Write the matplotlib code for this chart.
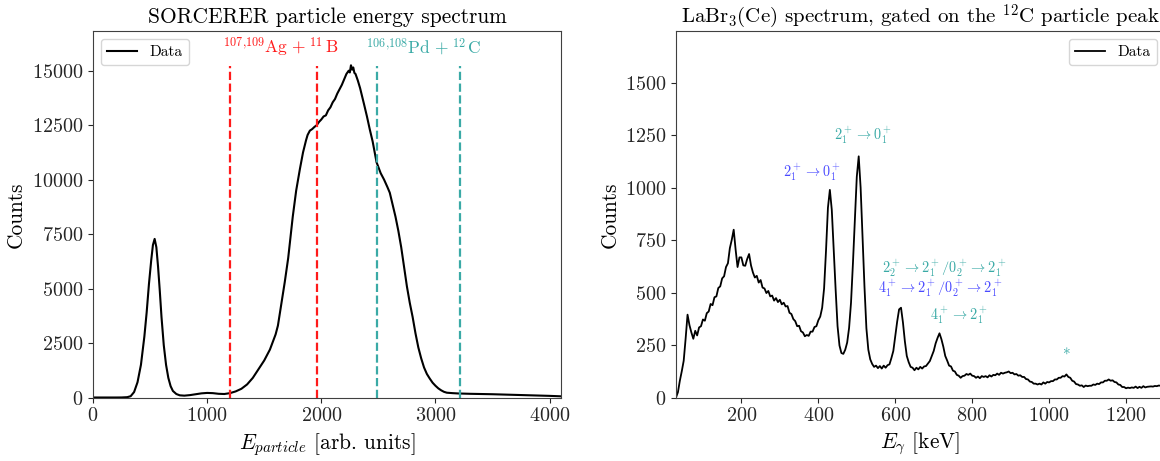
import numpy as np
import matplotlib
matplotlib.use("Agg")
import matplotlib.pyplot as plt

plt.rcParams['font.family'] = 'serif'
plt.rcParams['font.serif'] = ['cmr10']
plt.rcParams['mathtext.fontset'] = 'cm'
plt.rcParams['axes.formatter.use_mathtext'] = True
plt.rcParams['axes.unicode_minus'] = False

# ---------------- Left panel data: particle energy spectrum ----------------
particle_channel = [0, 100, 200, 250, 300, 330, 360, 390, 420, 450, 470, 490, 510, 525, 540,
                    555, 570, 585, 600, 620, 640, 660, 680, 700, 730, 760, 800, 850, 900, 950,
                    1000, 1050, 1100, 1150, 1200, 1250, 1300, 1350, 1400, 1450, 1500, 1550,
                    1600, 1620, 1650, 1680, 1710, 1750, 1780, 1813, 1840, 1866,
                    1880, 1900, 1920, 1940, 1960, 1980, 2000, 2020, 2040, 2060, 2080, 2100,
                    2120, 2140, 2160, 2180, 2200, 2220, 2240, 2250, 2260, 2270, 2280, 2290,
                    2300, 2320, 2340, 2375, 2400, 2425, 2450, 2484, 2520, 2550, 2580, 2600,
                    2625, 2650, 2675, 2700, 2725, 2750, 2775, 2800, 2825, 2850, 2875, 2900,
                    2925, 2950, 2975, 3000, 3025, 3050, 3075, 3100, 3150, 3200, 3300, 3400,
                    3500, 3600, 3700, 3800, 3900, 4000, 4096]
particle_counts = [0, 0, 0, 2, 15, 60, 250, 700, 1500, 2800, 3900, 5200, 6300, 7000, 7280,
                   6900, 6000, 4900, 3700, 2400, 1500, 900, 520, 300, 160, 100, 85, 110, 150, 190,
                   210, 200, 170, 160, 200, 280, 400, 600, 900, 1300, 1700, 2200,
                   2900, 3300, 4300, 5300, 6400, 8300, 9500, 10500, 11250, 11800,
                   12050, 12250, 12320, 12420, 12500, 12650, 12760, 12900, 12950, 13180, 13320, 13550,
                   13700, 13950, 14150, 14350, 14600, 14850, 15000, 14920, 15250, 15050, 15150, 14900,
                   14850, 14550, 14200, 13450, 12900, 12300, 11750, 10800, 10300, 10000, 9650, 9400,
                   8850, 8300, 7650, 6900, 6000, 5100, 4350, 3700, 2950, 2300, 1800, 1380,
                   1080, 870, 680, 540, 420, 330, 260, 220, 200, 185, 170, 160,
                   150, 135, 120, 105, 90, 75, 55]

ag_b_lines = [1200, 1960]
pd_c_lines = [2484, 3212]

# ---------------- Right panel data: gated LaBr3 spectrum ----------------
gamma_energy = np.arange(30, 1301, 5)
gamma_counts = [
    0, 25, 80, 125, 175, 280, 395, 345, 310, 280,
    318, 296, 334, 340, 372, 366, 402, 410, 446, 440,
    478, 482, 522, 530, 568, 578, 622, 640, 712, 752,
    800, 705, 622, 668, 668, 630, 628, 660, 684, 630,
    596, 572, 580, 548, 560, 524, 520, 498, 508, 482,
    486, 462, 474, 455, 466, 444, 452, 434, 436, 404,
    398, 374, 364, 340, 342, 316, 310, 292, 298, 294,
    314, 314, 336, 340, 368, 386, 428, 520, 700, 905,
    990, 895, 700, 515, 340, 248, 212, 208, 228, 262,
    332, 452, 640, 852, 1052, 1150, 1000, 758, 528, 330,
    228, 182, 160, 146, 152, 140, 150, 138, 152, 142,
    154, 158, 188, 222, 292, 362, 420, 428, 358, 268,
    198, 168, 146, 142, 130, 142, 134, 146, 138, 148,
    150, 162, 174, 198, 222, 258, 284, 306, 278, 242,
    198, 176, 152, 148, 128, 124, 108, 104, 94, 102,
    104, 112, 108, 114, 104, 102, 94, 100, 92, 102,
    98, 102, 96, 106, 100, 108, 106, 114, 108, 118,
    114, 118, 120, 124, 116, 118, 110, 112, 104, 106,
    98, 98, 88, 86, 76, 74, 66, 66, 62, 66,
    62, 72, 66, 74, 72, 78, 78, 86, 86, 94,
    94, 102, 100, 110, 98, 94, 80, 76, 64, 62,
    56, 58, 50, 57, 54, 56, 56, 62, 60, 66,
    64, 72, 72, 80, 80, 86, 80, 82, 74, 72,
    62, 60, 50, 50, 44, 47, 45, 48, 46, 52,
    45, 51, 46, 54, 48, 51, 52, 53, 52, 55,
    54, 57, 56, 59, 57]

left_xticks = [0, 1000, 2000, 3000, 4000]
left_yticks = [0, 2500, 5000, 7500, 10000, 12500, 15000]
right_xticks = [200, 400, 600, 800, 1000, 1200]
right_yticks = [0, 250, 500, 750, 1000, 1250, 1500]

RED = '#ff1a1a'
TEAL = '#3aaaa6'
BLUE = '#4a4aff'

W, H = 1160, 461
fig = plt.figure(figsize=(W / 100, H / 100), dpi=100)

ax1 = fig.add_axes([93 / W, 1 - 397.5 / H, (561 - 93) / W, (397.5 - 31.5) / H])
ax2 = fig.add_axes([676 / W, 1 - 397.5 / H, (1164.5 - 676) / W, (397.5 - 31.5) / H])

for ax in (ax1, ax2):
    for s in ax.spines.values():
        s.set_color('0.25')
    ax.tick_params(labelsize=14.5, colors='0.15')

# Left panel
ax1.plot(particle_channel, particle_counts, color='black', lw=1.5, label='Data')
for xv in ag_b_lines:
    ax1.plot([xv, xv], [0, 15200], color=RED, ls='--', lw=1.6)
for xv in pd_c_lines:
    ax1.plot([xv, xv], [0, 15200], color=TEAL, ls='--', lw=1.6)
ax1.text(1640, 16090, r'$^{107{,}109}\mathrm{Ag}\,+^{11}\,\mathrm{B}$', color=RED, fontsize=12.5,
         ha='center', va='center')
ax1.text(2900, 16090, r'$^{106{,}108}\mathrm{Pd}\,+^{12}\,\mathrm{C}$', color=TEAL, fontsize=12.5,
         ha='center', va='center')
ax1.set_xlim(0, 4100)
ax1.set_ylim(0, 16800)
ax1.set_xticks(left_xticks)
ax1.set_yticks(left_yticks)
ax1.set_title('SORCERER particle energy spectrum', fontsize=15.4)
ax1.set_xlabel(r'$E_{particle}$ [arb. units]', fontsize=15.4)
ax1.set_ylabel('Counts', fontsize=15.4)
ax1.legend(loc='upper left', fontsize=11)

# Right panel
ax2.plot(gamma_energy, gamma_counts, color='black', lw=1.3, label='Data')
ax2.text(516, 1250, r'$2_1^+\rightarrow 0_1^+$', color=TEAL, fontsize=10.3, ha='center', va='center')
ax2.text(383, 1074, r'$2_1^+\rightarrow 0_1^+$', color=BLUE, fontsize=10.3, ha='center', va='center')
ax2.text(727, 617, r'$2_2^+\rightarrow 2_1^+/0_2^+\rightarrow 2_1^+$', color=TEAL, fontsize=10.3,
         ha='center', va='center')
ax2.text(718, 522, r'$4_1^+\rightarrow 2_1^+/0_2^+\rightarrow 2_1^+$', color=BLUE, fontsize=10.3,
         ha='center', va='center')
ax2.text(767, 393, r'$4_1^+\rightarrow 2_1^+$', color=TEAL, fontsize=10.3, ha='center', va='center')
ax2.text(1044, 194, '*', color=TEAL, fontsize=11, ha='center', va='center')
ax2.set_xlim(30, 1300)
ax2.set_ylim(0, 1745)
ax2.set_xticks(right_xticks)
ax2.set_yticks(right_yticks)
ax2.set_title(r'LaBr$_3$(Ce) spectrum, gated on the $^{12}$C particle peak', fontsize=15)
ax2.set_xlabel(r'$E_\gamma$ [keV]', fontsize=15.4)
ax2.set_ylabel('Counts', fontsize=15.4)
ax2.legend(loc='upper right', fontsize=11)

fig.savefig('out.png', dpi=100)
